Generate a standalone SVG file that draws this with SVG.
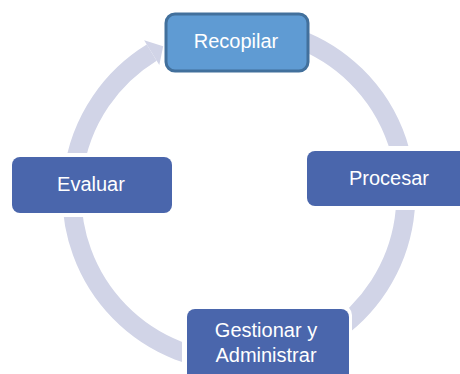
<svg xmlns="http://www.w3.org/2000/svg" width="460" height="374" viewBox="0 0 460 374">
  <style>
    .ring { fill: none; stroke: #d1d4e7; stroke-width: 19; }
    .head { fill: #d1d4e7; }
    .box { fill: #4a66ac; }
    .box-hl { fill: #5f9bd3; stroke: #42709c; stroke-width: 3; }
    .lbl { font-family: "Liberation Sans", Arial, sans-serif; font-size: 20px; fill: #ffffff; text-anchor: middle; }
  </style>
  <defs>
    <mask id="gaps" maskUnits="userSpaceOnUse" x="0" y="0" width="460" height="374">
      <rect x="0" y="0" width="460" height="374" fill="#fff"/>
      <rect x="303" y="146" width="170" height="64" rx="10" fill="#000"/>
      <rect x="8" y="153" width="168" height="64" rx="10" fill="#000"/>
      <rect x="182" y="305" width="170" height="80" rx="10" fill="#000"/>
    </mask>
  </defs>
  <g id="connectors" mask="url(#gaps)">
    <path class="ring" d="M296.1,38.1 A167,167 0 1 1 151.7,52.6"/>
    <polygon class="head" points="144.1,40.2 163.2,46.2 159.3,65.0"/>
  </g>
  <g id="recopilar">
    <rect class="box-hl" x="166" y="14" width="142" height="57" rx="9"/>
    <text class="lbl" x="236" y="48">Recopilar</text>
  </g>
  <g id="procesar">
    <rect class="box" x="307" y="151" width="165" height="55" rx="8"/>
    <text class="lbl" x="389" y="185">Procesar</text>
  </g>
  <g id="evaluar">
    <rect class="box" x="12" y="157" width="160" height="56" rx="8"/>
    <text class="lbl" x="91" y="191">Evaluar</text>
  </g>
  <g id="gestionar">
    <rect class="box" x="187" y="309" width="162" height="80" rx="8"/>
    <text class="lbl" x="266" y="337">Gestionar y</text>
    <text class="lbl" x="266" y="362">Administrar</text>
  </g>
</svg>
